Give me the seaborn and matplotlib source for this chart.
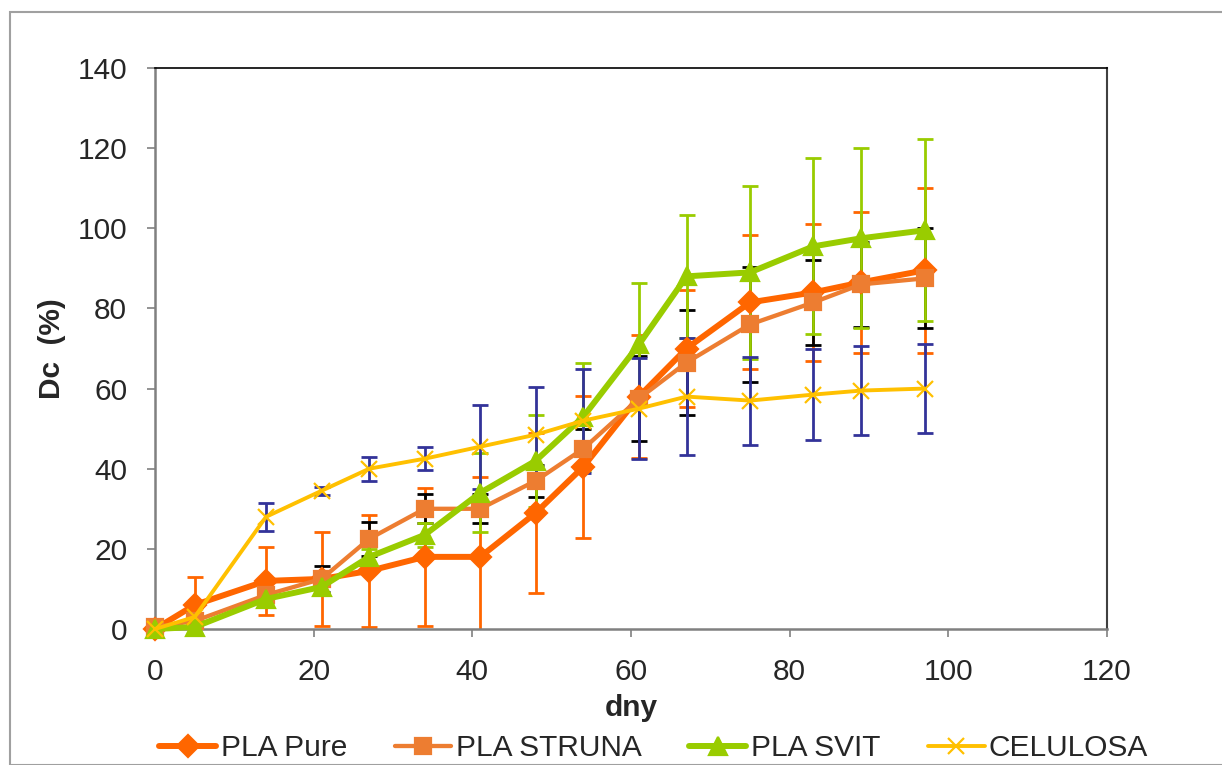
import numpy as np
import pandas as pd
import matplotlib
matplotlib.use("Agg")
import matplotlib.pyplot as plt
import seaborn as sns
from matplotlib.lines import Line2D
from matplotlib.patches import Rectangle

days = [0, 5, 14, 21, 27, 34, 41, 48, 54, 61, 67, 75, 83, 89, 97]
pla_pure = [0, 6, 12, 12.5, 14.5, 18, 18, 29, 40.5, 58, 70, 81.5, 84, 86.5, 89.5]
pla_pure_err = [0, 7, 8.5, 11.8, 14, 17.3, 20, 20, 17.7, 15.3, 14.7, 16.7, 17, 17.5, 20.5]
pla_struna = [0.5, 2, 8.5, 12.5, 22.5, 30, 30, 37, 45, 57.5, 66.5, 76, 81.5, 86, 87.5]
pla_struna_err = [0, 1, 1.5, 3.2, 4.3, 3.6, 3.6, 4, 5, 10.6, 13, 14.4, 10.7, 10.6, 12.5]
pla_svit = [0, 0.5, 7.5, 10.5, 18, 23.5, 34, 42, 53, 71, 88, 89, 95.5, 97.5, 99.5]
pla_svit_err = [0, 0.5, 1, 1.5, 2, 3, 9.8, 11.5, 13.5, 15.3, 15.3, 21.6, 22, 22.5, 22.7]
celulosa = [0, 3, 28, 34.5, 40, 42.5, 45.5, 48.5, 52, 55, 58, 57, 58.5, 59.5, 60]
celulosa_err = [0, 0.5, 3.5, 1, 3, 2.8, 10.5, 12, 13, 12.7, 14.7, 11, 11.3, 11, 11]

series_names = ["PLA Pure", "PLA STRUNA", "PLA SVIT", "CELULOSA"]
x_ticks = [0, 20, 40, 60, 80, 100, 120]
y_ticks = [0, 20, 40, 60, 80, 100, 120, 140]

sns.set_theme(style="white")
plt.rcParams['font.family'] = ['Liberation Sans', 'DejaVu Sans']

fig = plt.figure(figsize=(12.22, 7.65), dpi=100)
ax = fig.add_axes([155/1222, 1-629/765, (1107-155)/1222, (629-68)/765])

styles = [
    dict(name="PLA Pure", y=pla_pure, err=pla_pure_err, color="#FF6600", ecolor="#FF6600",
         marker="D", ms=11, lw=4.3, z=4),
    dict(name="PLA STRUNA", y=pla_struna, err=pla_struna_err, color="#ED7D31", ecolor="#000000",
         marker="s", ms=11, lw=3.1, z=5),
    dict(name="PLA SVIT", y=pla_svit, err=pla_svit_err, color="#99CC00", ecolor="#99CC00",
         marker="^", ms=13.5, lw=4.3, z=6),
    dict(name="CELULOSA", y=celulosa, err=celulosa_err, color="#FFC000", ecolor="#333399",
         marker="x", ms=12, lw=2.8, z=7),
]

# error bars (beneath lines)
for s in styles:
    ax.errorbar(days, s["y"], yerr=s["err"], fmt="none", ecolor=s["ecolor"],
                elinewidth=2.0, capsize=5.5, capthick=2.0, zorder=2)

handles = []
for s in styles:
    df = pd.DataFrame({"dny": days, "val": s["y"]})
    n_before = len(ax.lines)
    sns.lineplot(data=df, x="dny", y="val", ax=ax, color=s["color"], linewidth=s["lw"],
                 marker=s["marker"], markersize=s["ms"], markeredgecolor=s["color"],
                 markeredgewidth=1.6, zorder=s["z"], legend=False, sort=False)
    for ln in ax.lines[n_before:]:
        ln.set_clip_on(False)
    handles.append(Line2D([], [], color=s["color"], lw=s["lw"], marker=s["marker"],
                          markersize=s["ms"], markeredgecolor=s["color"], markeredgewidth=1.6,
                          label=s["name"]))

ax.set_xlim(0, 120)
ax.set_ylim(0, 140)
ax.set_xticks(x_ticks)
ax.set_yticks(y_ticks)
ax.tick_params(axis="both", which="major", labelsize=21.5, direction="out", length=6,
               width=1.2, color="#808080", bottom=True, left=True)
ax.tick_params(axis="y", pad=14)
ax.tick_params(axis="x", pad=15)
for side in ["left", "bottom"]:
    ax.spines[side].set_color("#808080")
    ax.spines[side].set_linewidth(1.8)
ax.spines["top"].set_color("#000000")
ax.spines["top"].set_linewidth(1.2)
ax.spines["right"].set_color("#404040")
ax.spines["right"].set_linewidth(1.5)

ax.set_xlabel("dny", fontsize=21.5, fontweight="bold", labelpad=6)
ax.set_ylabel("Dc  (%)", fontsize=21.5, fontweight="bold", labelpad=8)

fig.legend(handles=handles, loc="center", bbox_to_anchor=(0.535, 0.022), ncol=4,
           frameon=False, fontsize=21.5, handlelength=1.9, handletextpad=0.15,
           columnspacing=1.6, borderpad=0)

fig.patches.append(Rectangle((10/1222, 0), 1.1, 1-12/765, transform=fig.transFigure,
                             fill=False, edgecolor="#A0A0A0", linewidth=1.5, clip_on=False))

fig.savefig("out.png", dpi=100)
